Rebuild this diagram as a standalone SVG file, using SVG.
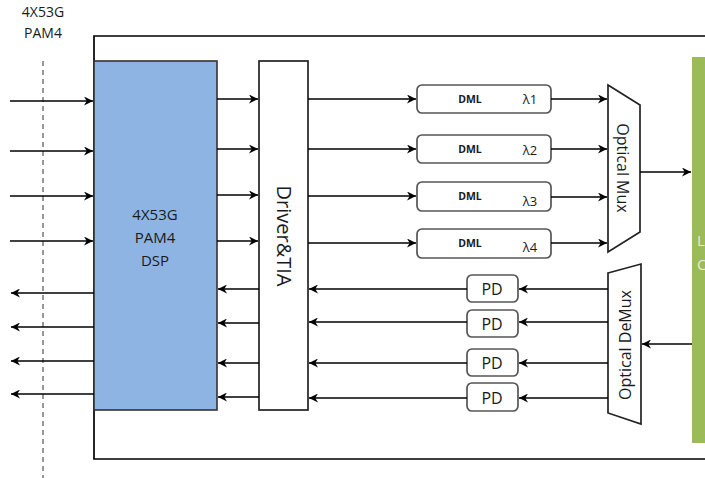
<svg xmlns="http://www.w3.org/2000/svg" width="705" height="478" viewBox="0 0 705 478">
<style>
.t{font-family:"Open Sans","Liberation Sans",sans-serif;fill:#1a1a1a}
.ln{stroke:#000;stroke-width:1.7;fill:none}
.box{fill:#fff;stroke:#222;stroke-width:1.7}
.rb{fill:#fff;stroke:#555;stroke-width:1.7}
</style>
<defs>
<marker id="ah" viewBox="0 0 10 10" refX="10" refY="5" markerWidth="10" markerHeight="9" markerUnits="userSpaceOnUse" orient="auto">
<path d="M0,0 L10,5 L0,10 L3,5 Z" fill="#000"/>
</marker>
</defs>
<rect width="705" height="478" fill="#fff"/>
<g id="outer"><path d="M705,36 L94,36 L94,459 L705,459" class="ln" stroke-width="1.9"/></g>
<g id="labels">
<text class="t" x="43" y="17" font-size="14" text-anchor="middle">4X53G</text>
<text class="t" x="43" y="38" font-size="14" text-anchor="middle">PAM4</text>
<line x1="43" y1="61" x2="43" y2="478" stroke="#333" stroke-width="1" stroke-dasharray="5,4"/>
</g>
<g id="dsp">
<rect x="94" y="61" width="123" height="349" fill="#8EB4E3" stroke="#333" stroke-width="1.6"/>
<text class="t" x="155" y="220" font-size="15" text-anchor="middle">4X53G</text>
<text class="t" x="155" y="243" font-size="15" text-anchor="middle">PAM4</text>
<text class="t" x="155" y="266" font-size="15" text-anchor="middle">DSP</text>
</g>
<g id="driver">
<rect x="259" y="61" width="49" height="349" class="box"/>
<text class="t" transform="translate(277,236) rotate(90)" font-size="20" text-anchor="middle">Driver&amp;TIA</text>
</g>
<g id="dml1"><rect x="417" y="85" width="134" height="28" rx="5" class="rb"/><text class="t" x="470" y="103" font-size="10.5" font-weight="bold" text-anchor="middle">DML</text><text class="t" x="530" y="104" font-size="13" text-anchor="middle">λ1</text></g>
<g id="dml2"><rect x="417" y="135" width="134" height="28" rx="5" class="rb"/><text class="t" x="470" y="153" font-size="10.5" font-weight="bold" text-anchor="middle">DML</text><text class="t" x="530" y="155" font-size="13" text-anchor="middle">λ2</text></g>
<g id="dml3"><rect x="417" y="182" width="134" height="29" rx="5" class="rb"/><text class="t" x="470" y="200" font-size="10.5" font-weight="bold" text-anchor="middle">DML</text><text class="t" x="530" y="206" font-size="13" text-anchor="middle">λ3</text></g>
<g id="dml4"><rect x="417" y="229" width="134" height="29" rx="5" class="rb"/><text class="t" x="470" y="247" font-size="10.5" font-weight="bold" text-anchor="middle">DML</text><text class="t" x="530" y="252" font-size="13" text-anchor="middle">λ4</text></g>
<g id="mux">
<path d="M608,85 L640,105 L640,232 L608,252 Z" class="box"/>
<text class="t" transform="translate(617,168) rotate(90)" font-size="16" text-anchor="middle">Optical Mux</text>
</g>
<g id="demux">
<path d="M608,273 L641,264 L641,424 L608,413 Z" class="box"/>
<text class="t" transform="translate(631,345) rotate(-90)" font-size="16" text-anchor="middle">Optical DeMux</text>
</g>
<g id="pd1"><rect x="467" y="275" width="51" height="27" rx="5" class="rb"/><text class="t" x="492" y="295" font-size="16" text-anchor="middle">PD</text></g>
<g id="pd2"><rect x="467" y="310" width="51" height="27" rx="5" class="rb"/><text class="t" x="492" y="330" font-size="16" text-anchor="middle">PD</text></g>
<g id="pd3"><rect x="467" y="349" width="51" height="27" rx="5" class="rb"/><text class="t" x="492" y="369" font-size="16" text-anchor="middle">PD</text></g>
<g id="pd4"><rect x="467" y="383" width="51" height="28" rx="5" class="rb"/><text class="t" x="492" y="404" font-size="16" text-anchor="middle">PD</text></g>
<g id="connector">
<rect x="692" y="57" width="13" height="386" fill="#9BBB59"/>
<text x="697" y="246" font-family="Open Sans,Liberation Sans,sans-serif" font-size="15" fill="#e4edd0">L</text>
<text x="697" y="270" font-family="Open Sans,Liberation Sans,sans-serif" font-size="15" fill="#e4edd0">C</text>
</g>
<g id="connectors" class="ln" marker-end="url(#ah)">
<line x1="10" y1="101" x2="93" y2="101"/>
<line x1="10" y1="151" x2="93" y2="151"/>
<line x1="10" y1="196" x2="93" y2="196"/>
<line x1="10" y1="241" x2="93" y2="241"/>
<line x1="94" y1="293" x2="11" y2="293"/>
<line x1="94" y1="327" x2="11" y2="327"/>
<line x1="94" y1="361" x2="11" y2="361"/>
<line x1="94" y1="394" x2="11" y2="394"/>
<line x1="217" y1="99" x2="258" y2="99"/>
<line x1="217" y1="149" x2="258" y2="149"/>
<line x1="217" y1="195" x2="258" y2="195"/>
<line x1="217" y1="241" x2="258" y2="241"/>
<line x1="259" y1="289" x2="218" y2="289"/>
<line x1="259" y1="323" x2="218" y2="323"/>
<line x1="259" y1="363" x2="218" y2="363"/>
<line x1="259" y1="397" x2="218" y2="397"/>
<line x1="308" y1="99" x2="416" y2="99"/>
<line x1="308" y1="149" x2="416" y2="149"/>
<line x1="308" y1="196" x2="416" y2="196"/>
<line x1="308" y1="243" x2="416" y2="243"/>
<line x1="551" y1="99" x2="607" y2="99"/>
<line x1="551" y1="149" x2="607" y2="149"/>
<line x1="551" y1="197" x2="607" y2="197"/>
<line x1="551" y1="243" x2="607" y2="243"/>
<line x1="640" y1="172" x2="691" y2="172"/>
<line x1="692" y1="344" x2="642" y2="344"/>
<line x1="608" y1="289" x2="519" y2="289"/>
<line x1="608" y1="322" x2="519" y2="322"/>
<line x1="608" y1="363" x2="519" y2="363"/>
<line x1="608" y1="398" x2="519" y2="398"/>
<line x1="467" y1="289" x2="309" y2="289"/>
<line x1="467" y1="322" x2="309" y2="322"/>
<line x1="467" y1="363" x2="309" y2="363"/>
<line x1="467" y1="398" x2="309" y2="398"/>
</g>
</svg>
